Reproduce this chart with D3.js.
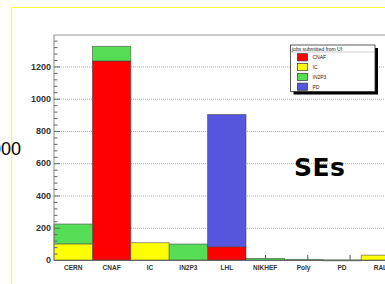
<!DOCTYPE html>
<html>
<head>
    <meta charset="utf-8">
    <script src="https://cdnjs.cloudflare.com/ajax/libs/d3/7.8.5/d3.min.js"></script>
    <style>
        body { margin: 0; background: #fff; }
        svg { display: block; }
        .ylab { font-family: Arial, "Liberation Sans", sans-serif; font-size: 9px; font-weight: bold; fill: #333; }
        .xlab { font-family: Arial, "Liberation Sans", sans-serif; font-size: 6.5px; font-weight: bold; fill: #333; }
        .leg { font-family: Arial, "Liberation Sans", sans-serif; font-size: 5px; fill: #222; }
    </style>
</head>
<body>
<svg width="385" height="284"></svg>
<script>
    // bins on the x axis (storage elements)
    var categories = ["CERN", "CNAF", "IC", "IN2P3", "LHL", "NIKHEF", "Poly", "PD", "RAL"];
    // jobs submitted from each UI, stacked in this order
    var uiNames = ["CNAF", "IC", "IN2P3", "PD"];
    var cnafJobs  = [0, 1234, 0, 0, 82, 0, 0, 0, 0];
    var icJobs    = [100, 0, 107, 0, 0, 0, 0, 0, 30];
    var in2p3Jobs = [123, 91, 0, 99, 0, 10, 4, 1, 0];
    var pdJobs    = [0, 0, 0, 0, 820, 0, 0, 0, 0];
    var yTicks = [0, 200, 400, 600, 800, 1000, 1200];
    var colors = ["#ff0000", "#ffff00", "#55dd55", "#5555dd"];

    var svg = d3.select("svg");

    // yellow slide frame
    svg.append("path")
        .attr("d", "M11.5,290 V7.5 H390")
        .attr("fill", "none")
        .attr("stroke", "#ffff33")
        .attr("stroke-width", 1.2);

    // cut off big number on the left
    svg.append("text")
        .attr("x", 21).attr("y", 155)
        .attr("text-anchor", "end")
        .style("font-family", "Arial, 'Liberation Sans', sans-serif")
        .style("font-size", "18px")
        .text("1000");

    var x = d3.scaleBand().domain(categories).range([54, 54 + 9 * 38.4]).padding(0);
    var y = d3.scaleLinear().domain([0, 1395]).range([260, 35]);

    // grid
    svg.append("g").selectAll("line")
        .data(yTicks.slice(1))
        .enter().append("line")
        .attr("x1", 55).attr("x2", 385)
        .attr("y1", d => y(d) + 0.5).attr("y2", d => y(d) + 0.5)
        .attr("stroke", "#aaa")
        .attr("stroke-dasharray", "1,1");

    // x axis ticks
    var tickPos = d3.scaleLinear().domain([0, 8]).range([54, 392.4]);
    svg.append("g").selectAll("line")
        .data(d3.range(1, 9))
        .enter().append("line")
        .attr("x1", d => tickPos(d)).attr("x2", d => tickPos(d))
        .attr("y1", 260).attr("y2", 255)
        .attr("stroke", "#555");

    // stacked bars
    var rows = categories.map(function(c, i) {
        return { cat: c, CNAF: cnafJobs[i], IC: icJobs[i], IN2P3: in2p3Jobs[i], PD: pdJobs[i] };
    });
    var stack = d3.stack().keys(uiNames)(rows);

    svg.append("g").selectAll("g")
        .data(stack)
        .enter().append("g")
        .attr("fill", (d, i) => colors[i])
        .selectAll("rect")
        .data(d => d.filter(p => p[1] - p[0] > 0))
        .enter().append("rect")
        .attr("x", d => x(d.data.cat))
        .attr("width", x.bandwidth())
        .attr("y", d => y(d[1]))
        .attr("height", d => Math.max(1, y(d[0]) - y(d[1])))
        .attr("stroke", "#444")
        .attr("stroke-opacity", 0.7)
        .attr("stroke-width", 0.8);

    // frame: top and left axis, bottom line
    svg.append("line").attr("x1", 53.5).attr("x2", 385).attr("y1", 35).attr("y2", 35)
        .attr("stroke", "#bbb").attr("stroke-width", 1.6);
    svg.append("line").attr("x1", 54).attr("x2", 54).attr("y1", 35).attr("y2", 260.5)
        .attr("stroke", "#888").attr("stroke-width", 1);
    svg.append("line").attr("x1", 54).attr("x2", 385).attr("y1", 260.5).attr("y2", 260.5)
        .attr("stroke", "#666").attr("stroke-width", 1);

    // y axis ticks (major + minor, drawn inward)
    var minor = d3.range(0, 1395, 40);
    svg.append("g").selectAll("line")
        .data(minor)
        .enter().append("line")
        .attr("x1", 54).attr("x2", d => d % 200 === 0 ? 60 : 57.5)
        .attr("y1", d => y(d) + 0.5).attr("y2", d => y(d) + 0.5)
        .attr("stroke", "#666");

    svg.append("g").selectAll("text")
        .data(yTicks)
        .enter().append("text")
        .attr("class", "ylab")
        .attr("x", 51).attr("y", d => y(d) + 3.2)
        .attr("text-anchor", "end")
        .text(d => d);

    // category labels
    svg.append("g").selectAll("text")
        .data(categories)
        .enter().append("text")
        .attr("class", "xlab")
        .attr("x", d => x(d) + x.bandwidth() / 2)
        .attr("y", 269.5)
        .attr("text-anchor", "middle")
        .text(d => d);

    // legend
    var lg = svg.append("g");
    lg.append("rect").attr("x", 293.5).attr("y", 48).attr("width", 84.5).attr("height", 46.5).attr("fill", "#000");
    lg.append("rect").attr("x", 290.5).attr("y", 45).attr("width", 84.5).attr("height", 46.5)
        .attr("fill", "#fff").attr("stroke", "#333").attr("stroke-width", 0.8);
    lg.append("text").attr("class", "leg").attr("x", 292).attr("y", 50.5).text("jobs submitted from UI:");
    lg.append("line").attr("x1", 290.5).attr("x2", 375).attr("y1", 52).attr("y2", 52)
        .attr("stroke", "#999").attr("stroke-width", 0.5);
    var items = lg.selectAll("g.item")
        .data(uiNames)
        .enter().append("g")
        .attr("class", "item")
        .attr("transform", (d, i) => "translate(0," + (57.3 + i * 9.8) + ")");
    items.append("rect")
        .attr("x", 297.5).attr("y", -3.6).attr("width", 10).attr("height", 7.2)
        .attr("fill", (d, i) => colors[i])
        .attr("stroke", "#333").attr("stroke-width", 0.7);
    items.append("text").attr("class", "leg")
        .attr("x", 312.5).attr("y", 1.8)
        .text(d => d);

    // big label
    svg.append("text")
        .attr("x", 294).attr("y", 175.5)
        .style("font-family", "'DejaVu Sans', sans-serif")
        .style("font-weight", "bold")
        .style("font-size", "25px")
        .style("letter-spacing", "0.5px")
        .text("SEs");
</script>
</body>
</html>
